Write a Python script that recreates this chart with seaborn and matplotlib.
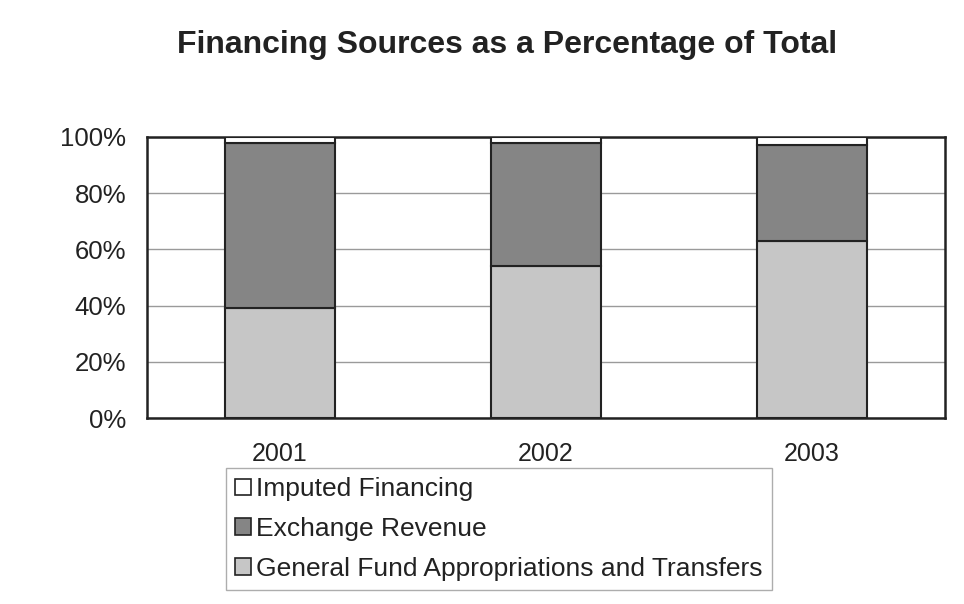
import matplotlib
matplotlib.use("Agg")
import matplotlib.pyplot as plt
import seaborn as sns
import pandas as pd
import numpy as np
from matplotlib.patches import Patch

years = ["2001", "2002", "2003"]
general_fund = [39, 54, 63]
exchange_revenue = [59, 44, 34]
imputed_financing = [2, 2, 3]
series_names = ["Imputed Financing", "Exchange Revenue", "General Fund Appropriations and Transfers"]
series_colors = {"Imputed Financing": "#ffffff",
                 "Exchange Revenue": "#858585",
                 "General Fund Appropriations and Transfers": "#c6c6c6"}
y_ticks = [0, 20, 40, 60, 80, 100]

sns.set_theme(style="white")
plt.rcParams['font.family'] = ['Liberation Sans', 'DejaVu Sans']

fig = plt.figure(figsize=(9.64, 6.04), dpi=100)
ax = fig.add_axes([147/964, 1-418/604, (945-147)/964, (418-137)/604])

df = pd.DataFrame({"year": years, "gf": general_fund, "ex": exchange_revenue, "im": imputed_financing})
bottoms = np.zeros(len(years))
stack = [("gf", "General Fund Appropriations and Transfers"),
         ("ex", "Exchange Revenue"),
         ("im", "Imputed Financing")]
for col, name in stack:
    sns.barplot(data=df, x="year", y=col, ax=ax, color=series_colors[name],
                bottom=bottoms, width=0.41, edgecolor="#222222", linewidth=1.5,
                saturation=1, errorbar=None, zorder=3)
    bottoms = bottoms + df[col].values

ax.set_ylim(0, 100)
ax.set_xlim(-0.5, 2.5)
ax.set_yticks(y_ticks)
ax.set_yticklabels([f"{t}%" for t in y_ticks], fontsize=18.5)
ax.tick_params(axis="x", labelsize=18, pad=17, length=0)
ax.tick_params(axis="y", length=0, pad=15)
ax.set_xlabel("")
ax.set_ylabel("")
ax.yaxis.grid(True, color="#9a9a9a", linewidth=1.0, zorder=0)
ax.xaxis.grid(False)
for s in ax.spines.values():
    s.set_visible(True)
    s.set_color("#222222")
    s.set_linewidth(1.8)
for lbl in ax.get_xticklabels() + ax.get_yticklabels():
    lbl.set_color("#222222")

fig.text(507/964, 1-45/604, "Financing Sources as a Percentage of Total",
         ha="center", va="center", fontsize=23, fontweight="bold", color="#222222")

handles = [Patch(facecolor=series_colors[n], edgecolor="#222222", linewidth=1.2, label=n)
           for n in series_names]
leg = fig.legend(handles=handles, loc="upper left", bbox_to_anchor=(226/964, 1-468/604),
                 fontsize=19, frameon=True, fancybox=False, edgecolor="#999999",
                 handlelength=0.6, handleheight=0.6, handletextpad=0.2,
                 labelspacing=0.6, borderpad=0.35, borderaxespad=0)
leg.get_frame().set_linewidth(1.0)
for t in leg.get_texts():
    t.set_color("#222222")

fig.savefig("out.png", dpi=100, facecolor="white")
